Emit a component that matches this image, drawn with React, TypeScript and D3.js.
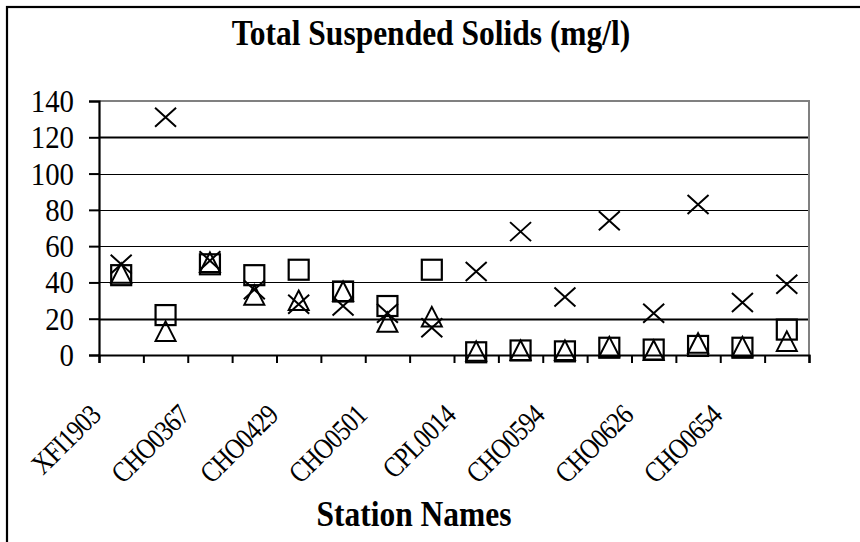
import { useEffect, useRef } from 'react';
import * as d3 from 'd3';

// station labels (only every other one is printed on the axis)
const stations = [
  'XFI1903', '', 'CHO0367', '', 'CHO0429', '', 'CHO0501', '',
  'CPL0014', '', 'CHO0594', '', 'CHO0626', '', 'CHO0654', '',
];

// three sampling series, values in mg/l
const crossValues = [50, 131, 52, 36, 28, 27, 23, 15, 46, 68, 32, 74, 23, 83, 29, 39];
const squareValues = [44, 22, 50, 44, 47, 35, 27, 47, 1.5, 2.5, 2, 4, 3, 5, 4, 14];
const triangleValues = [45, 13, 51, 33, 30, 35, 18, 21, 2, 2.5, 2.5, 4.5, 2.5, 6.5, 4.5, 7.5];

const yTicks = [0, 20, 40, 60, 80, 100, 120, 140];

const W = 860;
const H = 542;
const FONT = '"Liberation Serif", "Times New Roman", Times, serif';
const SX = 0.9; // the reference type is slightly condensed

export default function App() {
  const svgRef = useRef<SVGSVGElement>(null);

  useEffect(() => {
    if (!svgRef.current) return;
    const svg = d3.select(svgRef.current);
    svg.selectAll('*').remove();

    const left = 99, right = 809, top = 101, bottom = 355;

    const x = d3.scaleBand<number>()
      .domain(d3.range(stations.length))
      .range([left, right])
      .padding(0);
    const xEdge = d3.scaleLinear().domain([0, stations.length]).range([left, right]);
    const y = d3.scaleLinear().domain([0, 140]).range([bottom, top]);

    // outer chart border (runs off the page on the right / bottom)
    svg.append('rect')
      .attr('x', 7).attr('y', 7)
      .attr('width', 1000).attr('height', 1000)
      .attr('fill', 'white')
      .attr('stroke', '#000')
      .attr('stroke-width', 2.2);

    // title
    svg.append('text')
      .attr('transform', `translate(431,45) scale(${SX},1)`)
      .attr('text-anchor', 'middle')
      .attr('font-family', FONT)
      .attr('font-size', '35px')
      .attr('font-weight', 'bold')
      .text('Total Suspended Solids (mg/l)');

    // gridlines
    svg.append('g')
      .selectAll('line')
      .data(yTicks.filter(t => t > 0 && t < 140))
      .enter()
      .append('line')
      .attr('x1', left).attr('x2', right)
      .attr('y1', d => Math.round(y(d)) + 0.5)
      .attr('y2', d => Math.round(y(d)) + 0.5)
      .attr('stroke', '#000')
      .attr('stroke-width', d => (d === 20 || d === 120 ? 2 : 1));

    // plot area border (top / right, grey)
    svg.append('path')
      .attr('d', `M${left},${y(140)}H${right}V${bottom}`)
      .attr('fill', 'none')
      .attr('stroke', '#808080')
      .attr('stroke-width', 2);

    // y axis
    const yAxis = svg.append('g')
      .attr('transform', `translate(${left},0)`)
      .call(d3.axisLeft(y).tickValues(yTicks).tickSize(10).tickFormat(() => ''));
    yAxis.select('.domain').attr('stroke', '#000').attr('stroke-width', 2.2);
    yAxis.selectAll('.tick line').attr('stroke', '#000').attr('stroke-width', 2);

    svg.append('g')
      .selectAll('text')
      .data(yTicks)
      .enter()
      .append('text')
      .attr('transform', d => `translate(74,${y(d) + 11}) scale(${SX},1)`)
      .attr('text-anchor', 'end')
      .attr('font-family', FONT)
      .attr('font-size', '32px')
      .text(d => d);

    // x axis: ticks between categories
    const xAxis = svg.append('g')
      .attr('transform', `translate(0,${bottom})`)
      .call(d3.axisBottom(xEdge)
        .tickValues(d3.range(stations.length + 1))
        .tickSize(8)
        .tickFormat(() => ''));
    xAxis.select('.domain').attr('stroke', '#000').attr('stroke-width', 2.2);
    xAxis.selectAll('.tick line').attr('stroke', '#000').attr('stroke-width', 2);

    // rotated station labels
    svg.append('g')
      .selectAll('text')
      .data(stations.map((s, i) => ({ s, i })).filter(d => d.s !== ''))
      .enter()
      .append('text')
      .attr('transform', d => `translate(${x(d.i)! + x.bandwidth() / 2 - 19},417) rotate(-45) scale(${SX * 0.95},1)`)
      .attr('text-anchor', 'end')
      .attr('font-family', FONT)
      .attr('font-size', '29px')
      .attr('letter-spacing', '-1px')
      .text(d => d.s);

    // axis title
    svg.append('text')
      .attr('transform', `translate(414,526) scale(${SX},1)`)
      .attr('text-anchor', 'middle')
      .attr('font-family', FONT)
      .attr('font-size', '35px')
      .attr('font-weight', 'bold')
      .text('Station Names');

    const cx = (i: number) => x(i)! + x.bandwidth() / 2;
    const marks = svg.append('g').attr('fill', 'none').attr('stroke', '#000');

    // squares
    marks.selectAll('.sq')
      .data(squareValues)
      .enter()
      .append('rect')
      .attr('class', 'sq')
      .attr('x', (d, i) => cx(i) - 10)
      .attr('y', d => y(d) - 10)
      .attr('width', 20).attr('height', 20)
      .attr('stroke-width', 2.2);

    // triangles
    marks.selectAll('.tri')
      .data(triangleValues)
      .enter()
      .append('path')
      .attr('class', 'tri')
      .attr('d', 'M0,-10L10,9.5L-10,9.5Z')
      .attr('transform', (d, i) => `translate(${cx(i)},${y(d)})`)
      .attr('stroke-width', 2);

    // crosses
    marks.selectAll('.cr')
      .data(crossValues)
      .enter()
      .append('path')
      .attr('class', 'cr')
      .attr('d', 'M-10.5,-9.5L10.5,9.5M-10.5,9.5L10.5,-9.5')
      .attr('transform', (d, i) => `translate(${cx(i)},${y(d)})`)
      .attr('stroke-width', 2);
  }, []);

  return (
    <svg
      ref={svgRef}
      width={W}
      height={H}
      style={{ position: 'absolute', left: 0, top: 0, background: 'white' }}
    />
  );
}
